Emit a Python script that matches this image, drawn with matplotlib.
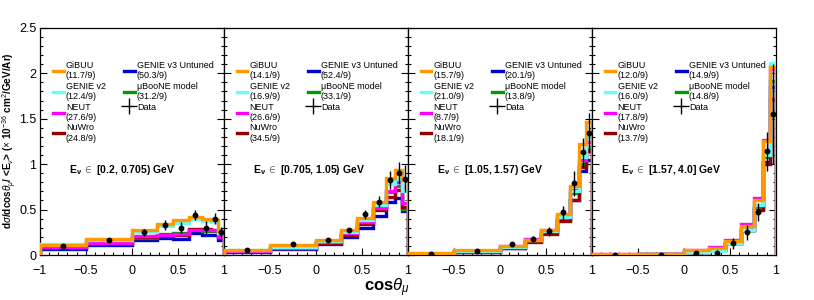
import matplotlib
matplotlib.use("Agg")
import matplotlib.pyplot as plt
from matplotlib.lines import Line2D
from matplotlib.ticker import MultipleLocator, FuncFormatter

plt.rcParams["font.family"] = ["Liberation Sans", "DejaVu Sans"]
plt.rcParams["mathtext.fontset"] = "custom"
plt.rcParams["mathtext.rm"] = "Liberation Sans"
plt.rcParams["mathtext.it"] = "Liberation Sans:italic"
plt.rcParams["mathtext.bf"] = "Liberation Sans:bold"

# cos theta_mu bin edges
edges = [-1.0, -0.5, 0.0, 0.27, 0.45, 0.62, 0.76, 0.86, 0.94, 1.0]

energy_labels = ["[0.2, 0.705) GeV", "[0.705, 1.05) GeV", "[1.05, 1.57) GeV", "[1.57, 4.0] GeV"]

model_names = ["GiBUU", "GENIE v2", "NEUT", "NuWro", "GENIE v3 Untuned", "\u03bcBooNE model"]
model_colors = ["#FF9900", "#66FFFF", "#FF00FF", "#990000", "#0000CC", "#009900"]

# chi2 per panel, same order as model_names
chi2 = [
    ["11.7", "12.4", "27.6", "24.8", "50.3", "31.2"],
    ["14.1", "16.9", "26.6", "34.5", "52.4", "33.1"],
    ["15.7", "21.0", "8.7", "18.1", "20.1", "13.8"],
    ["12.0", "16.0", "17.8", "13.7", "14.9", "14.8"],
]

gibuu = [
    [0.11, 0.18, 0.275, 0.34, 0.385, 0.415, 0.40, 0.39, 0.26],
    [0.06, 0.105, 0.17, 0.275, 0.41, 0.585, 0.85, 0.94, 0.83],
    [0.02, 0.05, 0.10, 0.17, 0.27, 0.45, 0.76, 1.22, 1.46],
    [0.01, 0.01, 0.055, 0.08, 0.15, 0.32, 0.61, 1.25, 2.07],
]
genie_v2 = [
    [0.12, 0.16, 0.25, 0.32, 0.35, 0.40, 0.37, 0.36, 0.24],
    [0.05, 0.09, 0.15, 0.25, 0.38, 0.55, 0.78, 0.84, 0.70],
    [0.015, 0.04, 0.09, 0.16, 0.26, 0.42, 0.70, 1.08, 1.30],
    [0.005, 0.01, 0.03, 0.04, 0.13, 0.28, 0.55, 1.10, 2.11],
]
neut = [
    [0.09, 0.13, 0.21, 0.22, 0.23, 0.28, 0.27, 0.27, 0.20],
    [0.04, 0.08, 0.14, 0.24, 0.36, 0.52, 0.70, 0.80, 0.57],
    [0.015, 0.045, 0.10, 0.18, 0.28, 0.43, 0.72, 1.05, 1.24],
    [0.01, 0.015, 0.05, 0.09, 0.165, 0.34, 0.63, 1.27, 2.05],
]
nuwro = [
    [0.09, 0.13, 0.20, 0.22, 0.22, 0.29, 0.29, 0.28, 0.21],
    [0.04, 0.08, 0.13, 0.22, 0.34, 0.49, 0.64, 0.72, 0.53],
    [0.01, 0.035, 0.08, 0.14, 0.23, 0.37, 0.60, 0.97, 1.15],
    [0.005, 0.01, 0.03, 0.06, 0.13, 0.27, 0.50, 1.00, 1.72],
]
genie_v3 = [
    [0.07, 0.11, 0.16, 0.19, 0.18, 0.245, 0.22, 0.22, 0.16],
    [0.03, 0.07, 0.12, 0.20, 0.30, 0.43, 0.58, 0.63, 0.48],
    [0.01, 0.035, 0.08, 0.15, 0.24, 0.38, 0.60, 0.92, 1.05],
    [0.005, 0.01, 0.03, 0.06, 0.13, 0.28, 0.52, 1.02, 1.85],
]
uboone = [
    [0.09, 0.14, 0.19, 0.23, 0.24, 0.27, 0.26, 0.26, 0.20],
    [0.04, 0.08, 0.14, 0.23, 0.36, 0.52, 0.69, 0.76, 0.51],
    [0.01, 0.04, 0.09, 0.15, 0.25, 0.40, 0.68, 1.00, 1.17],
    [0.005, 0.01, 0.03, 0.06, 0.13, 0.28, 0.52, 1.08, 1.91],
]
data = [
    [0.10, 0.16, 0.25, 0.33, 0.30, 0.44, 0.30, 0.40, 0.25],
    [0.05, 0.12, 0.16, 0.27, 0.45, 0.585, 0.83, 0.90, 0.84],
    [0.01, 0.04, 0.125, 0.18, 0.26, 0.47, 0.79, 1.13, 1.34],
    [0.005, 0.005, 0.02, 0.02, 0.13, 0.25, 0.47, 1.14, 1.55],
]
data_err = [
    [0.02, 0.02, 0.04, 0.05, 0.06, 0.06, 0.07, 0.06, 0.06],
    [0.01, 0.01, 0.02, 0.03, 0.05, 0.06, 0.10, 0.12, 0.15],
    [0.005, 0.01, 0.015, 0.03, 0.05, 0.07, 0.14, 0.16, 0.22],
    [0.005, 0.005, 0.01, 0.04, 0.06, 0.08, 0.10, 0.21, 0.55],
]

models = [gibuu, genie_v2, neut, nuwro, genie_v3, uboone]
draw_order = [4, 5, 3, 2, 1, 0]  # orange on top


def fmt_tick(v, pos):
    return ("%g" % v).replace("-", "\u2212")


def fmt_tick_nolow(v, pos):
    # left "-1" of panels 2-4 would sit on the neighbour's "1"
    if v <= -0.99:
        return ""
    return fmt_tick(v, pos)


fig, axes = plt.subplots(1, 4, figsize=(8.14, 3.0), dpi=100, sharey=True)
fig.subplots_adjust(left=0.049, right=0.953, bottom=0.15, top=0.907, wspace=0)

centers = [(edges[i] + edges[i + 1]) / 2 for i in range(len(edges) - 1)]

for p, ax in enumerate(axes):
    for k, m in enumerate(draw_order):
        ax.stairs(models[m][p], edges, color=model_colors[m], lw=2.4, baseline=0, zorder=2 + k)
    ax.errorbar(centers, data[p], yerr=data_err[p], fmt="o", color="black", ms=3.2,
                elinewidth=1, capsize=0, zorder=20)

    ax.set_xlim(-1, 1)
    ax.set_ylim(0, 2.5)
    ax.xaxis.set_major_locator(MultipleLocator(0.5))
    ax.xaxis.set_minor_locator(MultipleLocator(0.1))
    ax.yaxis.set_major_locator(MultipleLocator(0.5))
    ax.yaxis.set_minor_locator(MultipleLocator(0.1))
    ax.yaxis.set_major_formatter(FuncFormatter(fmt_tick))
    if p == 0:
        ax.xaxis.set_major_formatter(FuncFormatter(fmt_tick))
    else:
        ax.xaxis.set_major_formatter(FuncFormatter(fmt_tick_nolow))
        ax.tick_params(labelleft=False)
    ax.tick_params(which="both", direction="in", right=True, labelsize=9)
    ax.tick_params(which="major", length=5, width=0.8)
    ax.tick_params(which="minor", length=2.5, width=0.8)
    ax.tick_params(axis="y", pad=2.5)
    ax.tick_params(axis="x", pad=7)
    for sp in ax.spines.values():
        sp.set_linewidth(0.9)

    handles = [Line2D([], [], color=model_colors[m], lw=2.4) for m in range(6)]
    handles.append(Line2D([], [], color="black", marker="+", ms=12, mew=1, ls="none"))
    labels = [model_names[m] + "\n(" + chi2[p][m] + "/9)" for m in range(6)] + ["Data"]
    ax.legend(handles, labels, ncol=2, loc="upper left", bbox_to_anchor=(0.05, 0.87),
              frameon=False, fontsize=6.5, handlelength=1.2, handletextpad=0.25,
              columnspacing=2.0, labelspacing=0.15, borderaxespad=0)

    ax.text(0.16, 0.375, r"$\mathbf{E_{\nu}}$ $\in$ " + energy_labels[p], transform=ax.transAxes,
            fontsize=7.5, fontweight="bold", ha="left", va="center")

fig.text(0.012, 0.53, r"d$\sigma$/dcos$\theta_{\mu}$/ <E$_{\nu}$> ($\times$ 10$^{-36}$ cm$^{2}$/GeV/Ar)",
         rotation=90, ha="center", va="center", fontsize=7.2, fontweight="bold")
fig.text(0.475, 0.04, r"cos$\theta_{\mu}$", ha="center", va="center", fontsize=12, fontweight="bold")

fig.savefig("out.png", dpi=100)
